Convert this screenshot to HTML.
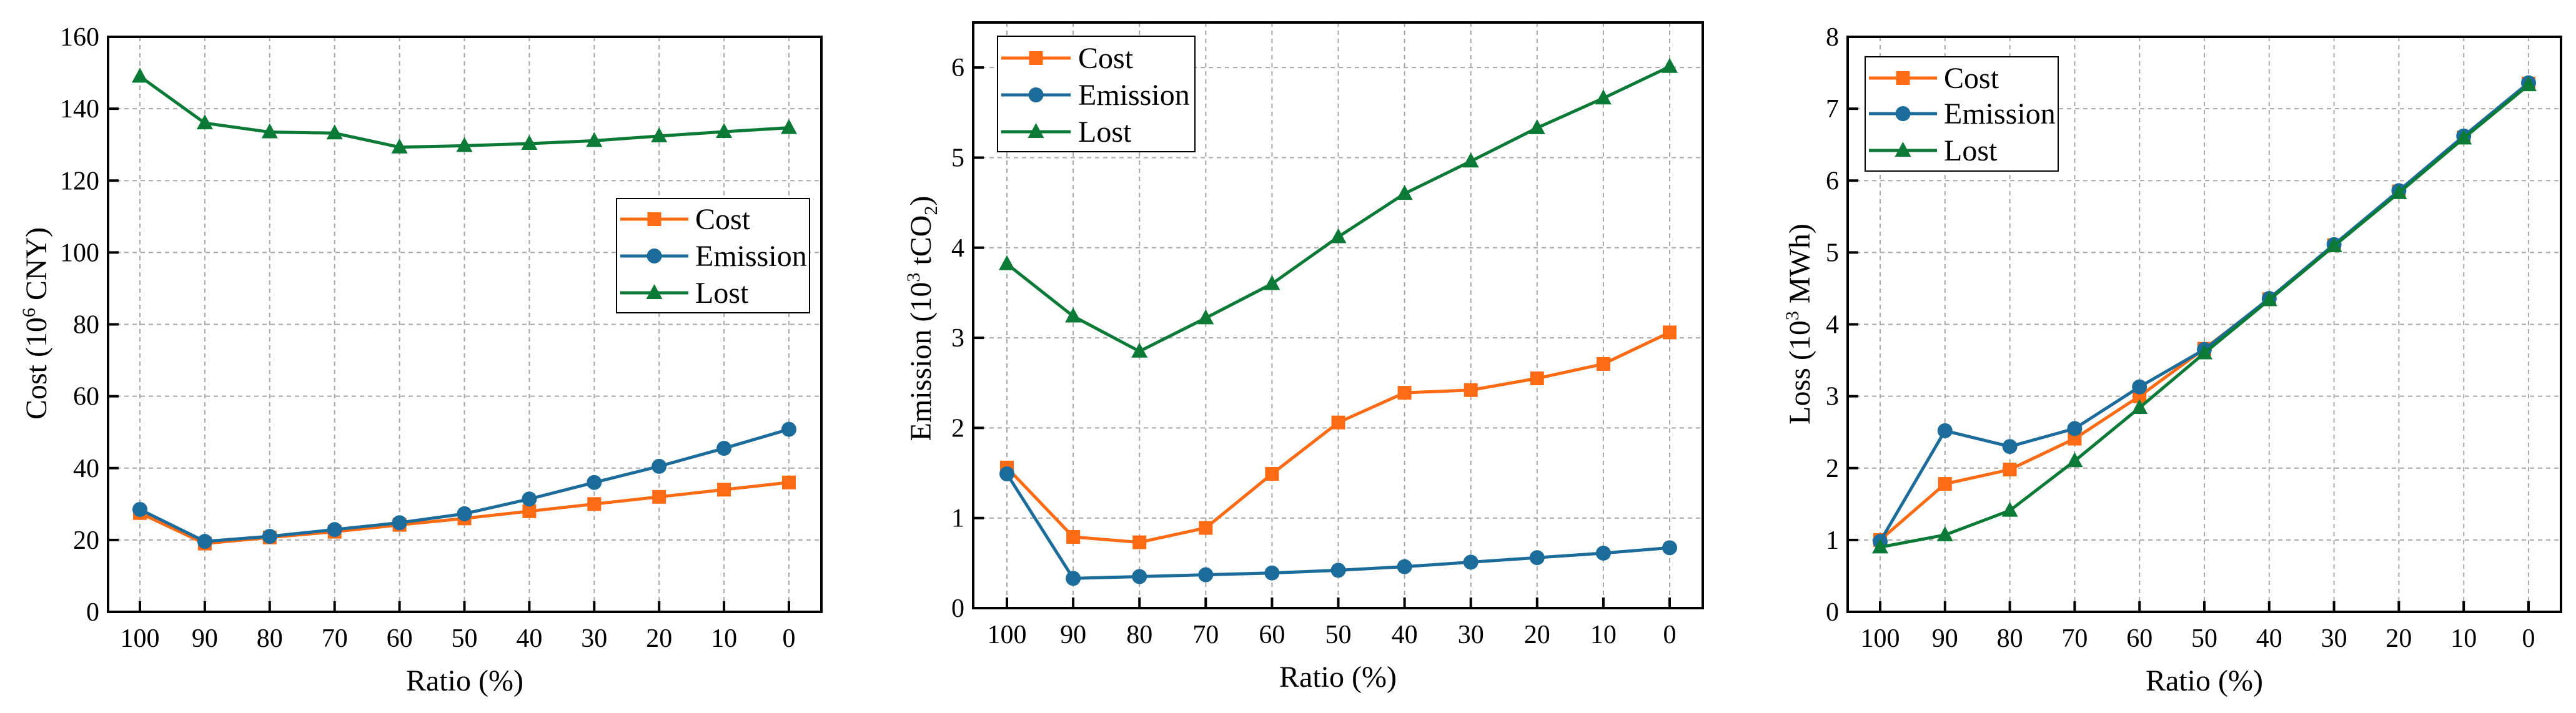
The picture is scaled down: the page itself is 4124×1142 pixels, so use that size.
<!DOCTYPE html>
<html><head><meta charset="utf-8"><style>
html,body{margin:0;padding:0;background:#fff;}
svg, svg text{font-family:"Liberation Serif","Times New Roman",serif;}
</style></head><body>
<svg id="fig" width="4124" height="1137" viewBox="0 0 4124 1137" xmlns="http://www.w3.org/2000/svg" font-family="Liberation Serif, serif"></svg>
<script>
const categories = [100,90,80,70,60,50,40,30,20,10,0];
const c1Cost = [27.5,19,20.7,22.3,24.2,26,28,30,32,34,36];
const c1Emission = [28.5,19.6,21,22.9,24.8,27.3,31.4,36,40.5,45.5,50.8];
const c1Lost = [149,136,133.5,133.2,129.3,129.7,130.3,131.1,132.4,133.6,134.7];
const c1Ticks = [0,20,40,60,80,100,120,140,160];
const c2Cost = [1.56,0.79,0.73,0.89,1.49,2.06,2.39,2.42,2.55,2.71,3.06];
const c2Emission = [1.49,0.33,0.35,0.37,0.39,0.42,0.46,0.51,0.56,0.61,0.67];
const c2Lost = [3.82,3.24,2.85,3.22,3.6,4.12,4.6,4.96,5.33,5.66,6.01];
const c2Ticks = [0,1,2,3,4,5,6];
const c3Cost = [1.0,1.78,1.98,2.41,3.0,3.66,4.35,5.1,5.85,6.6,7.35];
const c3Emission = [0.98,2.52,2.3,2.55,3.13,3.65,4.36,5.11,5.86,6.62,7.36];
const c3Lost = [0.9,1.07,1.41,2.1,2.84,3.6,4.34,5.09,5.83,6.59,7.33];
const c3Ticks = [0,1,2,3,4,5,6,7,8];
const seriesNames = ['Cost','Emission','Lost'];
const COLORS = {Cost:'#ff6a13',Emission:'#1b6b9b',Lost:'#0b7a36'};
const NS='http://www.w3.org/2000/svg';
const FF='Liberation Serif, Times New Roman, serif';
const svg=document.getElementById('fig');
function mk(tag,attrs,parent,text){const e=document.createElementNS(NS,tag);for(const k in attrs)e.setAttribute(k,attrs[k]);if(tag==='text')e.setAttribute('font-family',FF);if(text!==undefined)e.textContent=text;(parent||svg).appendChild(e);return e;}
function marker(g,name,x,y){
  let m;
  if(name==='Cost'){m=mk('rect',{x:x-11,y:y-11,width:22,height:22,fill:COLORS.Cost},g);}
  else if(name==='Emission'){m=mk('circle',{cx:x,cy:y,r:12,fill:COLORS.Emission},g);}
  else {m=mk('polygon',{points:`${x},${y-14} ${x-13},${y+10} ${x+13},${y+10}`,fill:COLORS.Lost},g);}
  return m;
}
function chart(cfg){
  const {id,L,R,T,B,x0,x1,ymax,ticks,data,ylabel,leg}=cfg;
  const g=mk('g',{});
  
  
  const xs=i=>x0+(x1-x0)*i/(categories.length-1);
  const ys=v=>B-(B-T)*v/ymax;
  categories.forEach((c,i)=>{mk('line',{x1:xs(i),x2:xs(i),y1:T,y2:B,stroke:'#a8a8a8','stroke-width':2,'stroke-dasharray':'7,6'},g);});
  ticks.forEach(t=>{if(t>0&&t<ymax)mk('line',{x1:L,x2:R,y1:ys(t),y2:ys(t),stroke:'#a8a8a8','stroke-width':2,'stroke-dasharray':'7,6'},g);});
  seriesNames.forEach((n,si)=>{
    const s=mk('g',{},g);
    
    
    const vals=data[si];
    mk('polyline',{points:vals.map((v,i)=>xs(i)+','+ys(v)).join(' '),fill:'none',stroke:COLORS[n],'stroke-width':5},s);
    vals.forEach((v,i)=>{const m=marker(s,n,xs(i),ys(v));});
  });
  const fr=mk('rect',{x:L,y:T,width:R-L,height:B-T,fill:'none',stroke:'#000','stroke-width':4},g);
  
  const xa=mk('g',{},g);
  categories.forEach((c,i)=>{mk('line',{x1:xs(i),x2:xs(i),y1:B-17,y2:B,stroke:'#000','stroke-width':4},xa);
    mk('text',{x:xs(i),y:B+56,'font-size':42,'text-anchor':'middle'},xa,String(c));});
  const ya=mk('g',{},g);
  ticks.forEach(t=>{mk('line',{x1:L,x2:L+17,y1:ys(t),y2:ys(t),stroke:'#000','stroke-width':4},ya);
    mk('text',{x:L-14,y:ys(t)+14,'font-size':42,'text-anchor':'end'},ya,String(t));});
  const xt=mk('text',{x:(L+R)/2,y:B+126,'font-size':48,'text-anchor':'middle'},g,'Ratio (%)');
  
  const yt=mk('text',{transform:`translate(${ylabel.x},${ylabel.y}) rotate(-90)`,'font-size':48,'text-anchor':'middle'},g);
  
  ylabel.parts.forEach(p=>{mk('tspan',p.a||{},yt,p.t);});
  const lg=mk('g',{},g);
  mk('rect',{x:leg.x,y:leg.y,width:leg.w,height:leg.h,fill:'#fff',stroke:'#000','stroke-width':2},lg);
  seriesNames.forEach((n,i)=>{
    const e=mk('g',{},lg);
    const y=leg.ey[i];
    mk('line',{x1:leg.lx0,x2:leg.lx1,y1:y,y2:y,stroke:COLORS[n],'stroke-width':5},e);
    marker(e,n,(leg.lx0+leg.lx1)/2,y);
    mk('text',{x:leg.tx,y:y+16,'font-size':48},e,n);
  });
}
chart({id:'cost-chart',L:173,R:1315,T:59,B:980,x0:224,x1:1263,ymax:160,ticks:c1Ticks,data:[c1Cost,c1Emission,c1Lost],
  ylabel:{x:74,y:518,parts:[{t:'Cost (10'},{t:'6',a:{'font-size':30,dy:-18}},{t:' CNY)',a:{dy:18}}]},
  leg:{x:987,y:318,w:309,h:183,ey:[351,410,469],lx0:993,lx1:1102,tx:1113}});
chart({id:'emission-chart',L:1558,R:2726,T:36,B:974,x0:1612,x1:2673,ymax:6.5,ticks:c2Ticks,data:[c2Cost,c2Emission,c2Lost],
  ylabel:{x:1490,y:510,parts:[{t:'Emission (10'},{t:'3',a:{'font-size':30,dy:-18}},{t:' tCO',a:{dy:18}},{t:'2',a:{'font-size':30,dy:10}},{t:')',a:{dy:-10}}]},
  leg:{x:1597,y:58,w:316,h:185,ey:[93,152,211],lx0:1603,lx1:1714,tx:1726}});
chart({id:'loss-chart',L:2958,R:4100,T:59,B:980,x0:3010,x1:4048,ymax:8,ticks:c3Ticks,data:[c3Cost,c3Emission,c3Lost],
  ylabel:{x:2897,y:519,parts:[{t:'Loss (10'},{t:'3',a:{'font-size':30,dy:-18}},{t:' MWh)',a:{dy:18}}]},
  leg:{x:2986,y:91,w:309,h:183,ey:[125,182,241],lx0:2992,lx1:3101,tx:3112}});
</script>
</body></html>
